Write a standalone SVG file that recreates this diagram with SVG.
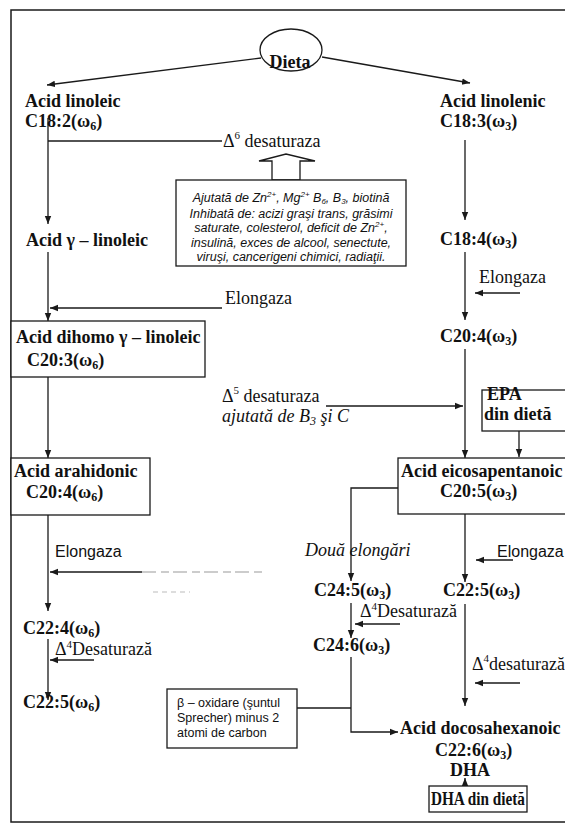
<svg xmlns="http://www.w3.org/2000/svg" width="565" height="825" viewBox="0 0 565 825">
<defs>
<style>
.ln{fill:none;stroke:#1a1a1a;stroke-width:1.3}
.bx{fill:#fff;stroke:#1a1a1a;stroke-width:1.3}
.b{font-family:"Liberation Serif","Times New Roman",serif;font-weight:bold;font-size:18px;fill:#111}
.r{font-family:"Liberation Serif","Times New Roman",serif;font-size:18px;fill:#111}
.it{font-family:"Liberation Serif","Times New Roman",serif;font-style:italic;font-size:18px;fill:#111}
.s{font-family:"Liberation Sans",Arial,sans-serif;font-size:16px;fill:#111}
.note{font-family:"Liberation Sans",Arial,sans-serif;font-style:italic;font-size:12.5px;fill:#111;text-anchor:middle}
.beta{font-family:"Liberation Sans",Arial,sans-serif;font-size:12.5px;fill:#111}
.sub{font-size:12px}
.sup{font-size:11px}
.ns{font-size:8px}
</style>
<marker id="ah" viewBox="0 0 10 10" refX="10" refY="5" markerWidth="8" markerHeight="8" markerUnits="userSpaceOnUse" orient="auto">
<path d="M0,1 L10,5 L0,9 z" fill="#1a1a1a"/>
</marker>
</defs>
<rect width="565" height="825" fill="#fff"/>
<rect id="frame" x="11" y="10" width="570" height="812" fill="none" stroke="#1a1a1a" stroke-width="1.5"/>

<g id="connectors">
<path class="ln" d="M261,58 L47,85" marker-end="url(#ah)"/>
<path class="ln" d="M322,57 L470,83" marker-end="url(#ah)"/>
<path class="ln" d="M48,118 V224" marker-end="url(#ah)"/>
<path class="ln" d="M48,141 H222"/>
<path class="ln" d="M48,252 V321" marker-end="url(#ah)"/>
<path class="ln" d="M222,308 H50" marker-end="url(#ah)"/>
<path class="ln" d="M48,377 V458" marker-end="url(#ah)"/>
<path class="ln" d="M48,515 V611" marker-end="url(#ah)"/>
<path class="ln" d="M142,572 H50" marker-end="url(#ah)"/>
<path d="M142,572 H263" fill="none" stroke="#999" stroke-width="1.2" stroke-dasharray="14 5 8 4"/>
<path d="M153,592 H190" fill="none" stroke="#bbb" stroke-width="1" stroke-dasharray="5 4"/>
<path class="ln" d="M48,639 V700" marker-end="url(#ah)"/>
<path class="ln" d="M94,660 H50" marker-end="url(#ah)"/>
<path class="ln" d="M465,140 V220" marker-end="url(#ah)"/>
<path class="ln" d="M465,252 V320" marker-end="url(#ah)"/>
<path class="ln" d="M520,293 H475" marker-end="url(#ah)"/>
<path class="ln" d="M465,349 V458" marker-end="url(#ah)"/>
<path class="ln" d="M326,406 H463" marker-end="url(#ah)"/>
<path class="ln" d="M519,431 V457" marker-end="url(#ah)"/>
<path class="ln" d="M398,488 H351 V581" marker-end="url(#ah)"/>
<path class="ln" d="M465,514 V582" marker-end="url(#ah)"/>
<path class="ln" d="M513,560 H476" marker-end="url(#ah)"/>
<path class="ln" d="M351,603 V638" marker-end="url(#ah)"/>
<path class="ln" d="M400,624 H355" marker-end="url(#ah)"/>
<path class="ln" d="M465,604 V706" marker-end="url(#ah)"/>
<path class="ln" d="M520,683 H475" marker-end="url(#ah)"/>
<path class="ln" d="M351,657 V732 H398" marker-end="url(#ah)"/>
<path class="ln" d="M297,708 H351"/>
<path class="ln" d="M465,786 V778" marker-end="url(#ah)"/>
<polygon points="272,180 272,161 259,161 286,154 315,161 300,161 300,180" fill="#fff" stroke="#1a1a1a" stroke-width="1.3"/>
</g>

<g id="dieta">
<ellipse cx="291" cy="50" rx="31" ry="21" fill="none" stroke="#1a1a1a" stroke-width="1.3"/>
<text class="b" x="290" y="68" text-anchor="middle">Dieta</text>
</g>

<g id="linoleic">
<text class="b" x="25" y="107">Acid linoleic</text>
<text class="b" x="25" y="127">C18:2(ω<tspan class="sub" dy="3">6</tspan><tspan dy="-3">)</tspan></text>
</g>

<g id="linolenic">
<text class="b" x="440" y="107">Acid linolenic</text>
<text class="b" x="440" y="127">C18:3(ω<tspan class="sub" dy="3">3</tspan><tspan dy="-3">)</tspan></text>
</g>

<g id="d6">
<text class="r" x="223" y="147">Δ<tspan class="sup" dy="-8">6</tspan><tspan dy="8"> desaturaza</tspan></text>
</g>

<g id="cofactors">
<rect class="bx" x="176" y="180" width="230" height="86"/>
<text class="note" x="291" y="202">Ajutată de Zn<tspan class="ns" dy="-5">2+</tspan><tspan dy="5">, Mg</tspan><tspan class="ns" dy="-5">2+</tspan><tspan dy="5"> B</tspan><tspan class="ns" dy="2">6</tspan><tspan dy="-2">, B</tspan><tspan class="ns" dy="2">3</tspan><tspan dy="-2">, biotină</tspan></text>
<text class="note" x="291" y="217.5">Inhibată de: acizi graşi trans, grăsimi</text>
<text class="note" x="291" y="232">saturate, colesterol, deficit de Zn<tspan class="ns" dy="-5">2+</tspan><tspan dy="5">,</tspan></text>
<text class="note" x="291" y="246.5">insulină, exces de alcool, senectute,</text>
<text class="note" x="291" y="261">viruşi, cancerigeni chimici, radiaţii.</text>
</g>

<g id="gla">
<text class="b" x="26" y="246">Acid γ – linoleic</text>
</g>

<g id="elong1">
<text class="r" x="225" y="304">Elongaza</text>
</g>

<g id="dihomo">
<rect class="bx" x="11" y="321" width="194" height="56"/>
<text class="b" x="16" y="343">Acid dihomo γ – linoleic</text>
<text class="b" x="27" y="366">C20:3(ω<tspan class="sub" dy="3">6</tspan><tspan dy="-3">)</tspan></text>
</g>

<g id="arahidonic">
<rect class="bx" x="11" y="458" width="139" height="57"/>
<text class="b" x="14" y="477">Acid arahidonic</text>
<text class="b" x="26" y="498">C20:4(ω<tspan class="sub" dy="3">6</tspan><tspan dy="-3">)</tspan></text>
</g>

<g id="elong3">
<text class="s" x="55" y="557">Elongaza</text>
</g>

<g id="c224">
<text class="b" x="23" y="634">C22:4(ω<tspan class="sub" dy="3">6</tspan><tspan dy="-3">)</tspan></text>
</g>

<g id="d4left">
<text class="r" x="55" y="655" font-size="17">Δ<tspan class="sup" dy="-7">4</tspan><tspan dy="7">Desaturază</tspan></text>
</g>

<g id="c225w6">
<text class="b" x="23" y="708">C22:5(ω<tspan class="sub" dy="3">6</tspan><tspan dy="-3">)</tspan></text>
</g>

<g id="c184">
<text class="b" x="440" y="245">C18:4(ω<tspan class="sub" dy="3">3</tspan><tspan dy="-3">)</tspan></text>
</g>

<g id="elong2">
<text class="r" x="479" y="283">Elongaza</text>
</g>

<g id="c204">
<text class="b" x="440" y="342">C20:4(ω<tspan class="sub" dy="3">3</tspan><tspan dy="-3">)</tspan></text>
</g>

<g id="d5">
<text class="r" x="222" y="402">Δ<tspan class="sup" dy="-8">5</tspan><tspan dy="8"> desaturaza</tspan></text>
<text class="it" x="222" y="422">ajutată de B<tspan class="sub" dy="3">3</tspan><tspan dy="-3"> şi C</tspan></text>
</g>

<g id="epa">
<rect class="bx" x="482" y="390" width="90" height="41"/>
<text class="b" x="487" y="400">EPA</text>
<text class="b" x="484" y="420">din dietă</text>
</g>

<g id="eicosa">
<rect class="bx" x="398" y="458" width="175" height="56"/>
<text class="b" x="401" y="477">Acid eicosapentanoic</text>
<text class="b" x="440" y="497">C20:5(ω<tspan class="sub" dy="3">3</tspan><tspan dy="-3">)</tspan></text>
</g>

<g id="doua">
<text class="it" x="305" y="556">Două elongări</text>
</g>

<g id="elong4">
<text class="s" x="497" y="557">Elongaza</text>
</g>

<g id="c245">
<text class="b" x="314" y="596">C24:5(ω<tspan class="sub" dy="3">3</tspan><tspan dy="-3">)</tspan></text>
</g>

<g id="c225w3">
<text class="b" x="443" y="596">C22:5(ω<tspan class="sub" dy="3">3</tspan><tspan dy="-3">)</tspan></text>
</g>

<g id="d4mid">
<text class="r" x="360" y="617" font-size="17">Δ<tspan class="sup" dy="-7">4</tspan><tspan dy="7">Desaturază</tspan></text>
</g>

<g id="c246">
<text class="b" x="313" y="651">C24:6(ω<tspan class="sub" dy="3">3</tspan><tspan dy="-3">)</tspan></text>
</g>

<g id="d4right">
<text class="r" x="472" y="670">Δ<tspan class="sup" dy="-8">4</tspan><tspan dy="8">desaturază</tspan></text>
</g>

<g id="beta">
<rect class="bx" x="167" y="689" width="130" height="59"/>
<text class="beta" x="177" y="707">β – oxidare (şuntul</text>
<text class="beta" x="177" y="722">Sprecher) minus 2</text>
<text class="beta" x="177" y="737">atomi de carbon</text>
</g>

<g id="dha">
<text class="b" x="400" y="734">Acid docosahexanoic</text>
<text class="b" x="435" y="756">C22:6(ω<tspan class="sub" dy="3">3</tspan><tspan dy="-3">)</tspan></text>
<text class="b" x="450" y="776">DHA</text>
</g>

<g id="dhadiet">
<rect class="bx" x="429" y="786" width="98" height="26"/>
<text class="b" x="431" y="805" font-size="17" textLength="94" lengthAdjust="spacingAndGlyphs">DHA din dietă</text>
</g>
</svg>
